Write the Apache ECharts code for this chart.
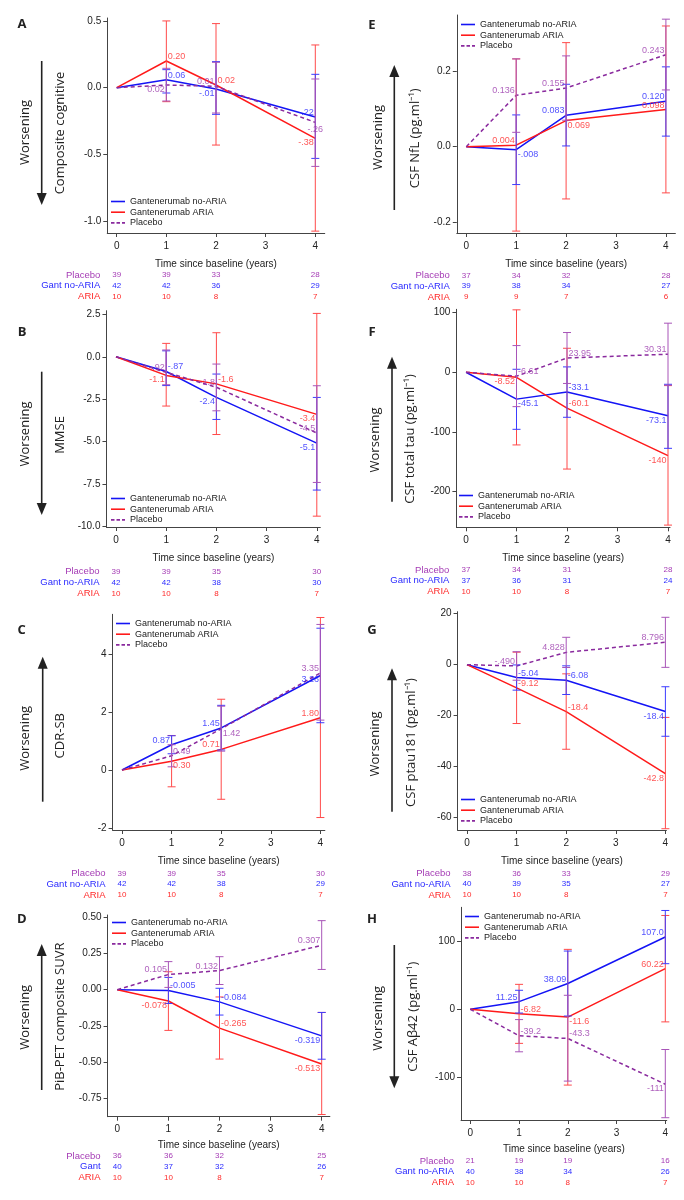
<!DOCTYPE html>
<html>
<head>
<meta charset="utf-8">
<script src="https://cdn.jsdelivr.net/npm/echarts@6/dist/echarts.min.js"></script>
<style>
  html, body { margin: 0; padding: 0; background: #fff; }
  #main { width: 684px; height: 1200px; }
</style>
</head>
<body>
<div id="main"></div>
<script>
// visit times and axis ticks
const times = [0, 1, 2, 4];
const xTicks = [0, 1, 2, 3, 4];
const names = ['Gantenerumab no-ARIA', 'Gantenerumab ARIA', 'Placebo'];
const rowNames = ['Placebo', 'Gant no-ARIA', 'ARIA'];

// A: composite cognitive
const aNoAria = [0, 0.06, -0.01, -0.22];
const aAria = [0, 0.20, 0.02, -0.38];
const aPlacebo = [0, 0.02, 0.01, -0.26];
const aNoAriaCI = [[-0.04, 0.135], [-0.2, 0.195], [-0.53, 0.10]];
const aAriaCI = [[-0.105, 0.5], [-0.43, 0.48], [-1.075, 0.32]];
const aPlaceboCI = [[-0.1, 0.145], [-0.19, 0.19], [-0.59, 0.065]];
const aNPlacebo = [39, 39, 33, 28];
const aNGant = [42, 42, 36, 29];
const aNAria = [10, 10, 8, 7];

// B: MMSE
const bNoAria = [0, -0.87, -2.4, -5.1];
const bAria = [0, -1.1, -1.6, -3.4];
const bPlacebo = [0, -0.92, -1.8, -4.5];
const bNoAriaCI = [[-1.7, 0.35], [-3.7, -1.02], [-7.87, -2.4]];
const bAriaCI = [[-2.91, 0.79], [-4.59, 1.42], [-9.41, 2.56]];
const bPlaceboCI = [[-1.65, 0.4], [-3.19, -0.43], [-7.42, -1.71]];
const bNPlacebo = [39, 39, 35, 30];
const bNGant = [42, 42, 38, 30];
const bNAria = [10, 10, 8, 7];

// C: CDR-SB
const cNoAria = [0, 0.87, 1.45, 3.26];
const cAria = [0, 0.30, 0.71, 1.80];
const cPlacebo = [0, 0.49, 1.42, 3.35];
const cNoAriaCI = [[0.56, 1.18], [0.69, 2.23], [1.63, 4.89]];
const cAriaCI = [[-0.58, 1.19], [-1.01, 2.44], [-1.64, 5.26]];
const cPlaceboCI = [[0.11, 0.87], [0.65, 2.2], [1.72, 5.02]];
const cNPlacebo = [39, 39, 35, 30];
const cNGant = [42, 42, 38, 29];
const cNAria = [10, 10, 8, 7];

// D: PiB-PET composite SUVR
const dNoAria = [0, -0.005, -0.084, -0.319];
const dAria = [0, -0.078, -0.265, -0.513];
const dPlacebo = [0, 0.105, 0.132, 0.307];
const dNoAriaCI = [[-0.095, 0.085], [-0.175, 0.01], [-0.48, -0.157]];
const dAriaCI = [[-0.281, 0.124], [-0.479, -0.05], [-0.862, -0.157]];
const dPlaceboCI = [[0.016, 0.194], [0.036, 0.228], [0.14, 0.477]];
const dNPlacebo = [36, 36, 32, 25];
const dNGant = [40, 37, 32, 26];
const dNAria = [10, 10, 8, 7];

// E: CSF NfL
const eNoAria = [0, -0.008, 0.083, 0.120];
const eAria = [0, 0.004, 0.069, 0.098];
const ePlacebo = [0, 0.136, 0.155, 0.243];
const eNoAriaCI = [[-0.1, 0.084], [0.002, 0.165], [0.028, 0.211]];
const eAriaCI = [[-0.223, 0.232], [-0.138, 0.275], [-0.122, 0.319]];
const ePlaceboCI = [[0.038, 0.232], [0.07, 0.24], [0.15, 0.337]];
const eNPlacebo = [37, 34, 32, 28];
const eNGant = [39, 38, 34, 27];
const eNAria = [9, 9, 7, 6];

// F: CSF total tau
const fNoAria = [0, -45.1, -33.1, -73.1];
const fAria = [0, -8.52, -60.1, -140];
const fPlacebo = [0, -6.61, 23.95, 30.31];
const fNoAriaCI = [[-95.8, 5.0], [-75.6, 9.0], [-127.7, -20.2]];
const fAriaCI = [[-122, 104.8], [-162.5, 40.3], [-256.6, -22.4]];
const fPlaceboCI = [[-57.7, 44.8], [-18.8, 66.7], [-21.8, 82.4]];
const fNPlacebo = [37, 34, 31, 28];
const fNGant = [37, 36, 31, 24];
const fNAria = [10, 10, 8, 7];

// G: CSF ptau181
const gNoAria = [0, -5.04, -6.08, -18.4];
const gAria = [0, -9.12, -18.4, -42.8];
const gPlacebo = [0, -0.49, 4.828, 8.796];
const gNoAriaCI = [[-10.0, -0.1], [-11.7, -0.45], [-28.1, -8.66]];
const gAriaCI = [[-23.1, 4.9], [-33.2, -3.6], [-64.4, -20.7]];
const gPlaceboCI = [[-6.1, 5.1], [-1.1, 10.75], [-1.05, 18.6]];
const gNPlacebo = [38, 36, 33, 29];
const gNGant = [40, 39, 35, 27];
const gNAria = [10, 10, 8, 7];

// H: CSF Abeta42
const hNoAria = [0, 11.25, 38.09, 107.0];
const hAria = [0, -6.82, -11.6, 60.22];
const hPlacebo = [0, -39.2, -43.3, -111];
const hNoAriaCI = [[-5.6, 28.1], [-10, 86.2], [67.5, 146.3]];
const hAriaCI = [[-50.5, 36.9], [-112.3, 88.7], [-18.7, 138.9]];
const hPlaceboCI = [[-63, -15.3], [-106.4, 20.7], [-160.6, -59.6]];
const hNPlacebo = [21, 19, 19, 16];
const hNGant = [40, 38, 34, 26];
const hNAria = [10, 10, 8, 7];

const lineColors = ['#1414f5', '#ff1a1a', '#8a2a9e'];
const errColors = ['#3c3cff', '#ff4a4a', '#a855b8'];
const labelColors = ['#2424ff', '#ff2a2a', '#9b3aad'];
const rowColors = ['#a53cb5', '#2a2aff', '#ff2a2a'];
const font = '"Liberation Sans", Arial, sans-serif';
const sideFont = '"Open Sans", sans-serif';
// legend keys: solid bar, dashed bar
const solidKey = 'path://M0,0h14v1.6h-14z';
const dashKey = 'path://M0,0h3.5v1.6h-3.5z M5.5,0h3.5v1.6h-3.5z M11,0h3v1.6h-3z';

const panels = [
  { id: 'A', yName: 'Composite cognitive', fmt: 4, yTicks: [-1, -0.5, 0, 0.5], yDec: 1,
    vals: [aNoAria, aAria, aPlacebo], ci: [aNoAriaCI, aAriaCI, aPlaceboCI], n: [aNPlacebo, aNGant, aNAria], gant: 'Gant no-ARIA',
    lab: [['ru', 'ld', 'lu'], ['ru', 'ru', 'ld'], ['ld', 'lu', 'b']],
    box: { x0: 116.7, s: 49.65, xMax: 4.19, top: 18, bottom: 233, yMin: -1.089, yMax: 0.522 },
    legend: [111, 197], letter: [22, 24], worse: [25, 132.5], arrow: [41.7, 61, 205], yNameAt: [60, 133], titleGap: 26, table: 42 },
  { id: 'B', yName: 'MMSE', fmt: 4, yTicks: [-10, -7.5, -5, -2.5, 0, 2.5], yDec: 1,
    vals: [bNoAria, bAria, bPlacebo], ci: [bNoAriaCI, bAriaCI, bPlaceboCI], n: [bNPlacebo, bNGant, bNAria], gant: 'Gant no-ARIA',
    lab: [['ru', 'ld', 'ld'], ['ld', 'ru', 'ld'], ['lu', 'lu', 'lu']],
    box: { x0: 116, s: 50.2, xMax: 4.07, top: 310.7, bottom: 527, yMin: -10.05, yMax: 2.72 },
    legend: [111, 494], letter: [22, 332.7], worse: [25, 434], arrow: [41.7, 371.7, 515], yNameAt: [60, 435], titleGap: 26, table: 44.7 },
  { id: 'C', yName: 'CDR-SB', fmt: 4, yTicks: [-2, 0, 2, 4], yDec: 0,
    vals: [cNoAria, cAria, cPlacebo], ci: [cNoAriaCI, cAriaCI, cPlaceboCI], n: [cNPlacebo, cNGant, cNAria], gant: 'Gant no-ARIA',
    lab: [['lu', 'lu', 'ld'], ['rd', 'lu', 'lu'], ['ru', 'rd', 'lu']],
    box: { x0: 122, s: 49.6, xMax: 4.09, top: 614.3, bottom: 830, yMin: -2.07, yMax: 5.37 },
    legend: [116, 619], letter: [21.7, 630], worse: [25, 738.3], arrow: [42.7, 801.7, 656.7], yNameAt: [60, 735.7], titleGap: 26, table: 43.3 },
  { id: 'D', yName: 'PiB-PET composite SUVR', fmt: 'f3', yTicks: [-0.75, -0.5, -0.25, 0, 0.25, 0.5], yDec: 2,
    vals: [dNoAria, dAria, dPlacebo], ci: [dNoAriaCI, dAriaCI, dPlaceboCI], n: [dNPlacebo, dNGant, dNAria], gant: 'Gant',
    lab: [['ru', 'ru', 'ld'], ['ld', 'ru', 'ld'], ['lu', 'lu', 'lu']],
    box: { x0: 117.3, s: 51.1, xMax: 4.16, top: 915, bottom: 1116.7, yMin: -0.877, yMax: 0.516 },
    legend: [112, 918], letter: [21.7, 919.3], worse: [25, 1017.3], arrow: [41.7, 1090, 944], yNameAt: [60, 1016.7], titleGap: 24, table: 39.3 },
  { id: 'E', yName: 'CSF NfL (pg.ml\u207B\u00B9)', fmt: 5, yTicks: [-0.2, 0, 0.2], yDec: 1,
    vals: [eNoAria, eAria, ePlacebo], ci: [eNoAriaCI, eAriaCI, ePlaceboCI], n: [eNPlacebo, eNGant, eNAria], gant: 'Gant no-ARIA',
    lab: [['rd', 'lu', 'lu'], ['lu', 'rd', 'lu'], ['lu', 'lu', 'lu']],
    box: { x0: 466.3, s: 49.9, xMax: 4.19, top: 15, bottom: 233, yMin: -0.228, yMax: 0.348 },
    legend: [461, 20], letter: [372, 25], worse: [378.7, 137.5], arrow: [394.3, 210, 65], yNameAt: [415.3, 138.3], titleGap: 26, table: 42.3 },
  { id: 'F', yName: 'CSF total tau (pg.ml\u207B\u00B9)', fmt: 5, yTicks: [-200, -100, 0, 100], yDec: 0,
    vals: [fNoAria, fAria, fPlacebo], ci: [fNoAriaCI, fAriaCI, fPlaceboCI], n: [fNPlacebo, fNGant, fNAria], gant: 'Gant no-ARIA',
    lab: [['rd', 'ru', 'ld'], ['ld', 'ru', 'ld'], ['ru', 'ru', 'lu']],
    box: { x0: 466, s: 50.5, xMax: 4.04, top: 309.3, bottom: 527.3, yMin: -260.3, yMax: 105.7 },
    legend: [459, 491], letter: [372, 332.7], worse: [375.3, 440], arrow: [392, 501.7, 356.7], yNameAt: [410.3, 439], titleGap: 25.5, table: 42.7 },
  { id: 'G', yName: 'CSF ptau181 (pg.ml\u207B\u00B9)', fmt: 5, yTicks: [-60, -40, -20, 0, 20], yDec: 0,
    vals: [gNoAria, gAria, gPlacebo], ci: [gNoAriaCI, gAriaCI, gPlaceboCI], n: [gNPlacebo, gNGant, gNAria], gant: 'Gant no-ARIA',
    lab: [['ru', 'ru', 'ld'], ['ru', 'ru', 'ld'], ['lu', 'lu', 'lu']],
    box: { x0: 467, s: 49.6, xMax: 4.02, top: 611.7, bottom: 830, yMin: -64.9, yMax: 20.8 },
    legend: [461, 795], letter: [372, 630], worse: [375.3, 744], arrow: [392, 811.7, 668.3], yNameAt: [411, 742.5], titleGap: 26, table: 43.3 },
  { id: 'H', yName: 'CSF A\u03B242 (pg.ml\u207B\u00B9)', fmt: 5, yTicks: [-100, 0, 100], yDec: 0,
    vals: [hNoAria, hAria, hPlacebo], ci: [hNoAriaCI, hAriaCI, hPlaceboCI], n: [hNPlacebo, hNGant, hNAria], gant: 'Gant no-ARIA',
    lab: [['lu', 'lu', 'lu'], ['ru', 'rd', 'lu'], ['ru', 'ru', 'ld']],
    box: { x0: 470.3, s: 48.75, xMax: 4.03, top: 907.3, bottom: 1120, yMin: -164, yMax: 151 },
    legend: [465, 912], letter: [372, 919.3], worse: [378.7, 1018.3], arrow: [394.3, 945, 1088.3], yNameAt: [413.7, 1016.7], titleGap: 24.5, table: 41 }
];

// number written in a fixed width, like the SAS labels of the figure
function fmtValue(v, w) {
  if (w === 'f3') return v.toFixed(3);
  for (let d = 4; d >= 0; d--) {
    let s = v.toFixed(d);
    if (s.startsWith('-0.')) s = '-' + s.slice(2);
    if (s.length <= w) return s;
  }
  return String(v);
}

function labelPos(code) {
  const d = 4.5;
  if (code === 'ru') return { position: 'right', distance: 1, offset: [0, -d] };
  if (code === 'rd') return { position: 'right', distance: 1, offset: [0, d] };
  if (code === 'lu') return { position: 'left', distance: 1, offset: [0, -d] };
  if (code === 'ld') return { position: 'left', distance: 1, offset: [0, d] };
  return { position: 'bottom', distance: 2 };
}

function renderErr(params, api) {
  const x = api.value(0);
  const c = errColors[api.value(3)];
  const top = api.coord([x, api.value(2)]);
  const bot = api.coord([x, api.value(1)]);
  const w = 4;
  const style = { stroke: c, lineWidth: 1, fill: null };
  return {
    type: 'group',
    children: [
      { type: 'line', shape: { x1: top[0], y1: top[1], x2: bot[0], y2: bot[1] }, style },
      { type: 'line', shape: { x1: top[0] - w, y1: top[1], x2: top[0] + w, y2: top[1] }, style },
      { type: 'line', shape: { x1: bot[0] - w, y1: bot[1], x2: bot[0] + w, y2: bot[1] }, style }
    ]
  };
}

const grid = [], xAxis = [], yAxis = [], series = [], legend = [];
const axisColor = '#444';

panels.forEach((p, i) => {
  const b = p.box;
  grid.push({ left: b.x0 - 0.19 * b.s, top: b.top, width: (b.xMax + 0.19) * b.s, height: b.bottom - b.top });
  xAxis.push({
    gridIndex: i, type: 'value', min: -0.19, max: b.xMax,
    axisLine: { show: true, onZero: false, lineStyle: { color: axisColor, width: 1 } },
    axisTick: { show: true, customValues: xTicks, length: 4, lineStyle: { color: axisColor } },
    axisLabel: { customValues: xTicks, fontSize: 10, color: '#222', fontFamily: font, margin: 8 },
    splitLine: { show: false },
    name: 'Time since baseline (years)', nameLocation: 'middle', nameGap: p.titleGap,
    nameTextStyle: { fontSize: 10, color: '#222', fontFamily: font }
  });
  yAxis.push({
    gridIndex: i, type: 'value', min: b.yMin, max: b.yMax,
    axisLine: { show: true, onZero: false, lineStyle: { color: axisColor, width: 1 } },
    axisTick: { show: true, customValues: p.yTicks, length: 4, lineStyle: { color: axisColor } },
    axisLabel: { customValues: p.yTicks, fontSize: 10, color: '#222', fontFamily: font, margin: 6,
      formatter: v => v.toFixed(p.yDec) },
    splitLine: { show: false }
  });
  // lines
  p.vals.forEach((vals, g) => {
    series.push({
      type: 'line', name: names[g], xAxisIndex: i, yAxisIndex: i,
      data: times.map((t, k) => [t, vals[k]]),
      symbol: 'none', z: 2,
      lineStyle: { color: lineColors[g], width: 1.5, type: g === 2 ? [4, 3] : 'solid' },
      itemStyle: { color: lineColors[g] }
    });
  });
  // error bars
  const errData = [];
  [1, 0, 2].forEach(g => {
    p.ci[g].forEach((c, k) => errData.push([times[k + 1], c[0], c[1], g]));
  });
  series.push({
    type: 'custom', xAxisIndex: i, yAxisIndex: i, renderItem: renderErr, z: 3,
    encode: { x: 0, y: [1, 2] }, data: errData, silent: true
  });
  // value labels
  p.vals.forEach((vals, g) => {
    series.push({
      type: 'scatter', name: 'lbl' + p.id + g, xAxisIndex: i, yAxisIndex: i, z: 4,
      symbolSize: 1, itemStyle: { color: 'rgba(0,0,0,0)' }, silent: true,
      data: times.slice(1).map((t, k) => ({
        value: [t, vals[k + 1]],
        label: Object.assign({ show: true }, labelPos(p.lab[g][k]))
      })),
      label: { show: true, fontSize: 9, fontFamily: font, color: labelColors[g],
        formatter: prm => fmtValue(prm.value[1], p.fmt) }
    });
  });
  legend.push({
    left: p.legend[0], top: p.legend[1], orient: 'vertical', padding: 0,
    data: names.map((nm, g) => ({ name: nm, icon: g === 2 ? dashKey : solidKey })),
    itemWidth: 14, itemHeight: 2, itemGap: 1.7, selectedMode: false,
    textStyle: { fontSize: 9, fontFamily: font, color: '#222', lineHeight: 9 }
  });
});

const chart = echarts.init(document.getElementById('main'));
chart.setOption({ animation: false, grid, xAxis, yAxis, series, legend });

// side texts, arrows and number-at-risk tables
const graphic = [];
panels.forEach((p, i) => {
  const b = p.box;
  graphic.push({ type: 'text', x: p.letter[0], y: p.letter[1],
    style: { text: p.id, fontSize: 13, fontWeight: 'bold', fontFamily: sideFont, fill: '#222', align: 'center', verticalAlign: 'middle' } });
  graphic.push({ type: 'text', x: p.worse[0], y: p.worse[1], rotation: Math.PI / 2,
    style: { text: 'Worsening', fontSize: 13, fontFamily: sideFont, fill: '#222', align: 'center', verticalAlign: 'middle' } });
  graphic.push({ type: 'text', x: p.yNameAt[0], y: p.yNameAt[1], rotation: Math.PI / 2,
    style: { text: p.yName, fontSize: 13, fontFamily: sideFont, fill: '#222', align: 'center', verticalAlign: 'middle' } });
  const [ax, tail, head] = p.arrow;
  const dir = head > tail ? 1 : -1;
  graphic.push({ type: 'line', shape: { x1: ax, y1: tail, x2: ax, y2: head - dir * 8 },
    style: { stroke: '#222', lineWidth: 1.6 } });
  graphic.push({ type: 'polygon', shape: { points: [[ax, head], [ax - 5, head - dir * 12], [ax + 5, head - dir * 12]] },
    style: { fill: '#222' } });
  const left = b.x0 - 0.19 * b.s;
  p.n.forEach((row, r) => {
    const y = b.bottom + p.table + r * 10.8;
    graphic.push({ type: 'text', x: left - 7, y,
      style: { text: r === 1 ? p.gant : rowNames[r], fontSize: 9.5, fontFamily: font, fill: rowColors[r], align: 'right', verticalAlign: 'middle' } });
    row.forEach((cnt, k) => {
      const x = chart.convertToPixel({ xAxisIndex: i }, times[k]);
      graphic.push({ type: 'text', x, y,
        style: { text: String(cnt), fontSize: 8, fontFamily: font, fill: rowColors[r], align: 'center', verticalAlign: 'middle' } });
    });
  });
});
chart.setOption({ graphic });
</script>
</body>
</html>
